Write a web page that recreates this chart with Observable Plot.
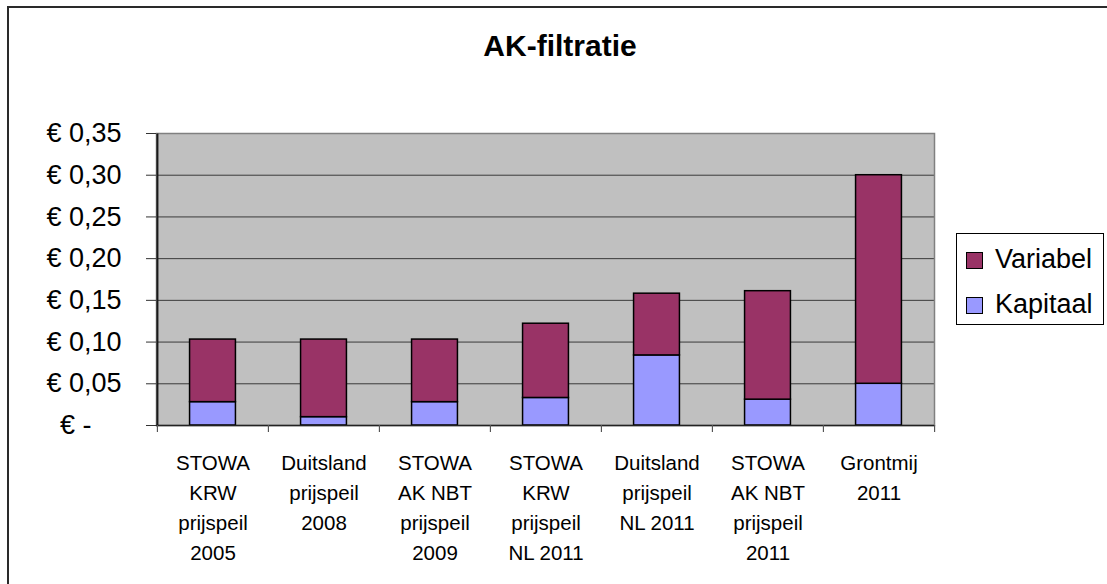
<!DOCTYPE html>
<html>
<head>
<meta charset="utf-8">
<script src="https://cdn.jsdelivr.net/npm/d3@7"></script>
<script src="https://cdn.jsdelivr.net/npm/@observablehq/plot@0.6"></script>
<style>
  html, body { margin: 0; padding: 0; background: #fff; overflow: hidden; }
  #wrap { position: relative; width: 1107px; height: 584px; overflow: hidden; font-family: "Liberation Sans", Arial, sans-serif; }
  #border { position: absolute; left: 7px; top: 6px; width: 1300px; height: 800px; border-top: 2px solid #2a2a2a; border-left: 2px solid #2a2a2a; box-sizing: border-box; pointer-events: none; }
  #title { position: absolute; left: 560px; top: 31px; transform: translateX(-50%); font-weight: bold; font-size: 30px; line-height: 30px; white-space: nowrap; color: #000; }
  #chart { position: absolute; left: 0; top: 0; }
  #legend { position: absolute; left: 956px; top: 233px; width: 148px; height: 92px; border: 1px solid #000; box-sizing: border-box; background: #fff; }
  .sw { position: absolute; left: 9px; width: 17px; height: 17px; border: 1.5px solid #000; box-sizing: border-box; }
  .lt { position: absolute; left: 38px; font-size: 27px; line-height: 27px; color: #000; white-space: nowrap; }
</style>
</head>
<body>
<div id="wrap">
  <div id="chart"></div>
  <div id="border"></div>
  <div id="title"></div>
  <div id="legend"></div>
</div>
<script>
const title = "AK-filtratie";
const categories = [
  "STOWA\nKRW\nprijspeil\n2005",
  "Duitsland\nprijspeil\n2008",
  "STOWA\nAK NBT\nprijspeil\n2009",
  "STOWA\nKRW\nprijspeil\nNL 2011",
  "Duitsland\nprijspeil\nNL 2011",
  "STOWA\nAK NBT\nprijspeil\n2011",
  "Grontmij\n2011"
];
const seriesNames = ["Kapitaal", "Variabel"];
const kapitaal = [0.028, 0.010, 0.028, 0.033, 0.084, 0.031, 0.050];
const variabel = [0.075, 0.093, 0.075, 0.089, 0.074, 0.130, 0.250];
const yTicks = [0, 0.05, 0.10, 0.15, 0.20, 0.25, 0.30, 0.35];
const yTickLabels = ["€ -\u2007\u2007", "€ 0,05", "€ 0,10", "€ 0,15", "€ 0,20", "€ 0,25", "€ 0,30", "€ 0,35"];
const colors = {Variabel: "#993366", Kapitaal: "#9999ff"};

const rows = [];
categories.forEach((c, i) => rows.push({cat: c, series: "Kapitaal", value: kapitaal[i]}));
categories.forEach((c, i) => rows.push({cat: c, series: "Variabel", value: variabel[i]}));

const W = 1107, H = 584;
const mL = 156, mR = 173, mT = 133, mB = 159;
const bw = (W - mL - mR) / categories.length;
const inset = bw * 0.293;

const chart = Plot.plot({
  width: W, height: H,
  marginLeft: mL, marginRight: mR, marginTop: mT, marginBottom: mB,
  style: {fontFamily: "'Liberation Sans', Arial, sans-serif", background: "transparent", color: "#000", overflow: "visible"},
  x: {domain: categories, padding: 0, axis: null, label: null},
  y: {domain: [0, 0.35], axis: null, label: null},
  color: {domain: ["Variabel", "Kapitaal"], range: [colors.Variabel, colors.Kapitaal]},
  marks: [
    Plot.frame({fill: "#c0c0c0", stroke: "none"}),
    Plot.ruleY(yTicks.slice(1), {y: d => d, stroke: "#3a3a3a", strokeWidth: 1}),
    Plot.frame({stroke: "#808080", strokeWidth: 1.5}),
    Plot.barY(rows, {x: "cat", y: "value", fill: "series", stroke: "#000", strokeWidth: 1.5, insetLeft: inset, insetRight: inset}),
    Plot.ruleY([0], {stroke: "#222", strokeWidth: 1.5}),
    Plot.link([categories[0]], {x1: d => d, x2: d => d, y1: () => 0.35, y2: () => 0, dx: -bw / 2, stroke: "#1a1a1a", strokeWidth: 2}),
    Plot.ruleX(categories, {x: d => d, dx: -bw / 2, y1: () => 0, y2: () => 0, insetBottom: -7, stroke: "#555", strokeWidth: 1.2}),
    Plot.ruleX([categories[categories.length - 1]], {x: d => d, dx: bw / 2, y1: () => 0, y2: () => 0, insetBottom: -7, stroke: "#555", strokeWidth: 1.2}),
    Plot.axisY({ticks: yTicks, tickFormat: (d) => yTickLabels[yTicks.indexOf(d)], tickSize: 10, tickPadding: 25, fontSize: 27, stroke: "#333", fill: "#000", label: null}),
    Plot.axisX({tickSize: 0, tickPadding: 23, fontSize: 20.5, lineHeight: 1.46, fill: "#000", label: null})
  ]
});
document.getElementById("chart").appendChild(chart);

document.getElementById("title").textContent = title;
const legend = document.getElementById("legend");
["Variabel", "Kapitaal"].forEach((name, i) => {
  const sw = document.createElement("div");
  sw.className = "sw";
  sw.style.top = (18 + i * 45) + "px";
  sw.style.background = colors[name];
  legend.appendChild(sw);
  const t = document.createElement("div");
  t.className = "lt";
  t.style.top = (12 + i * 45) + "px";
  t.textContent = name;
  legend.appendChild(t);
});
</script>
</body>
</html>
